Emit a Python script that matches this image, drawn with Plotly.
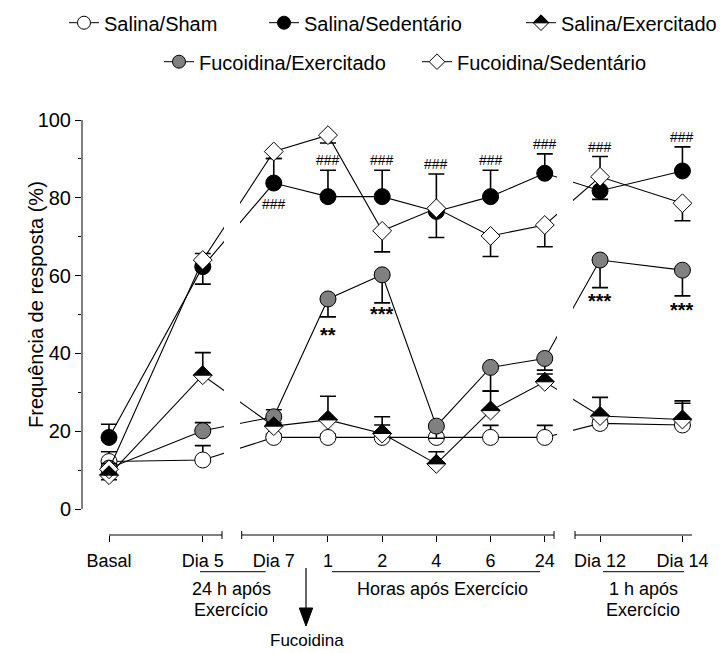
import plotly.graph_objects as go

# ---------------- data ----------------
categories = ["Basal", "Dia 5", "Dia 7", "1", "2", "4", "6", "24", "Dia 12", "Dia 14"]

sham       = [12.2, 12.6, 18.4, 18.4, 18.4, 18.4, 18.4, 18.4, 22.0, 21.6]
sham_up    = [2.5, 3.7, 0.8, 0.8, 3.2, 0.0, 3.1, 3.1, 0.8, 5.6]
sham_dn    = [0, 0, 0, 0, 0, 0, 0, 0, 0, 0]

sal_sed    = [18.4, 62.3, 83.8, 80.3, 80.3, 76.5, 80.3, 86.3, 81.8, 86.9]
sal_sed_up = [3.4, 0.0, 6.3, 6.8, 6.8, 9.6, 6.8, 5.0, 0.0, 6.2]
sal_sed_dn = [0, 4.5, 0, 0, 0, 0, 0, 0, 2.2, 0]

sal_ex     = [8.7, 34.4, 21.3, 22.9, 19.4, 11.6, 25.3, 32.7, 23.9, 23.0]
sal_ex_up  = [0.0, 5.8, 0.8, 6.1, 4.3, 3.1, 5.0, 2.0, 4.8, 4.8]
sal_ex_dn  = [1.2, 0, 0, 0, 0, 0, 0, 0, 0, 0]

fuc_ex     = [10.5, 20.1, 23.7, 54.0, 60.2, 21.3, 36.4, 38.7, 64.0, 61.4]
fuc_ex_up  = [0.0, 2.1, 1.8, 0, 0, 0, 0, 0, 0, 0]
fuc_ex_dn  = [1.0, 0, 0, 4.6, 7.2, 3.1, 6.1, 3.0, 7.1, 6.6]

fuc_sed    = [10.2, 64.0, 91.9, 96.1, 71.5, 77.3, 70.2, 73.0, 85.4, 78.6]
fuc_sed_up = [1.5, 1.7, 0, 0, 0, 0, 0, 0, 5.2, 0]
fuc_sed_dn = [0, 0, 1.8, 2.0, 5.4, 7.5, 5.3, 5.6, 0, 4.5]

# significance marks: (category, anchor series, side)
hash_marks = [("Dia 7", "sal_sed", "below"), ("1", "sal_sed", "above"), ("2", "sal_sed", "above"),
              ("4", "sal_sed", "above"), ("6", "sal_sed", "above"), ("24", "sal_sed", "above"),
              ("Dia 12", "fuc_sed", "above"), ("Dia 14", "sal_sed", "above")]
star_marks = [("1", "**"), ("2", "***"), ("Dia 12", "***"), ("Dia 14", "***")]

y_ticks = [0, 20, 40, 60, 80, 100]
y_minor = [10, 30, 50, 70, 90]

# ---------------- layout geometry ----------------
W, H = 727, 653
PL, PR, PT, PB = 82, 692, 120, 535          # plot area in px
X0_PX, UNIT = 109, 54.2                      # px of first category, px per position unit
cat_pos = [0, 1.73, 3.04, 4.04, 5.04, 6.04, 7.04, 8.04, 9.06, 10.58]
Y_MIN, Y_MAX = -6.684, 100
FONT = "Arial, Liberation Sans, sans-serif"

def xd(px):  # px -> x data
    return (px - X0_PX) / UNIT

def yp(py):  # px -> paper y
    return (PB - py) / (PB - PT)

def xp(px):  # px -> paper x
    return (px - PL) / (PR - PL)

data = {
    "sham": (sham, sham_up, sham_dn),
    "sal_sed": (sal_sed, sal_sed_up, sal_sed_dn),
    "sal_ex": (sal_ex, sal_ex_up, sal_ex_dn),
    "fuc_ex": (fuc_ex, fuc_ex_up, fuc_ex_dn),
    "fuc_sed": (fuc_sed, fuc_sed_up, fuc_sed_dn),
}
styles = [
    ("sham", "Salina/Sham", "circle", "white", 16),
    ("sal_sed", "Salina/Sedentário", "circle", "black", 16),
    ("sal_ex", "Salina/Exercitado", "diamond", "white", 14.5),
    ("fuc_ex", "Fucoidina/Exercitado", "circle", "#808080", 16),
    ("fuc_sed", "Fucoidina/Sedentário", "diamond", "white", 14.5),
]
legend_place = {  # text start px, row centre px
    "sham": (104, 22.7, "legend"), "sal_sed": (304, 22.7, "legend2"), "sal_ex": (561, 22.7, "legend3"),
    "fuc_ex": (199, 61.7, "legend4"), "fuc_sed": (457, 61.7, "legend5"),
}

fig = go.Figure()
for key, name, sym, fill, size in styles:
    y, up, dn = data[key]
    fig.add_trace(go.Scatter(
        x=cat_pos, y=y, mode="lines+markers", name=name, showlegend=False,
        line=dict(color="black", width=1.1),
        marker=dict(symbol=sym, size=size, color=fill, line=dict(color="black", width=1)),
        error_y=dict(type="data", symmetric=False, array=up, arrayminus=dn,
                     color="black", thickness=1.6, width=8),
    ))

# legend entries
legend_layouts = {}
for key, name, sym, fill, size in styles:
    tx, ty, lg = legend_place[key]
    lsym = "diamond-open" if key == "sal_ex" else sym
    lsize = 12 if sym == "diamond" else 13
    fig.add_trace(go.Scatter(
        x=[None], y=[None], mode="lines+markers", name=name, legend=lg,
        line=dict(color="black", width=1),
        marker=dict(symbol=lsym, size=lsize, color=("black" if key == "sal_ex" else fill),
                    line=dict(color="black", width=1)),
    ))
    legend_layouts[lg] = dict(x=xp(tx - 40), xanchor="left", y=yp(ty), yanchor="middle",
                              bgcolor="rgba(0,0,0,0)", font=dict(family=FONT, size=20, color="black"),
                              itemsizing="trace")

shapes = []
# axis breaks: white gaps over the connecting lines
for a, b in [(224, 240), (557, 573)]:
    shapes.append(dict(type="rect", xref="x", yref="paper", x0=xd(a), x1=xd(b), y0=0.012, y1=1.0,
                       fillcolor="white", line=dict(width=0), layer="above"))
# half-filled diamonds for Salina/Exercitado
for xv, yv in zip(cat_pos, sal_ex):
    shapes.append(dict(type="path", xref="x", yref="y", xsizemode="pixel", ysizemode="pixel",
                       xanchor=xv, yanchor=yv, path="M -9.4,0 L 0,9.4 L 9.4,0 Z",
                       fillcolor="black", line=dict(color="black", width=1), layer="above"))
# y axis line (0-100)
shapes.append(dict(type="line", xref="paper", yref="y", x0=0, x1=0, y0=0, y1=100,
                   line=dict(color="black", width=1)))
# broken x axis segments
for a, b in [(109, 222), (241.7, 554), (575, 692)]:
    shapes.append(dict(type="line", xref="x", yref="paper", x0=xd(a), x1=xd(b), y0=0, y1=0,
                       line=dict(color="black", width=1)))
for t in [222, 241.7, 554, 575]:
    shapes.append(dict(type="line", xref="x", yref="paper", x0=xd(t), x1=xd(t),
                       y0=yp(PB - 4), y1=yp(PB + 4), line=dict(color="black", width=1)))
# group underline bars
for a, b in [(200, 265.7), (332, 540), (603, 684)]:
    shapes.append(dict(type="line", xref="x", yref="paper", x0=xd(a), x1=xd(b),
                       y0=yp(571.7), y1=yp(571.7), line=dict(color="black", width=1)))
# Fucoidina arrow
shapes.append(dict(type="line", xref="x", yref="paper", x0=xd(306), x1=xd(306),
                   y0=yp(568), y1=yp(610), line=dict(color="black", width=1.2)))
shapes.append(dict(type="path", xref="x", yref="paper", xsizemode="pixel", ysizemode="pixel",
                   xanchor=xd(306), yanchor=yp(626), path="M -6.7,18 L 6.7,18 L 0,0 Z",
                   fillcolor="black", line=dict(color="black", width=1)))
# legend half-fill for Salina/Exercitado
tx, ty, _ = legend_place["sal_ex"]
shapes.append(dict(type="path", xref="paper", yref="paper", xsizemode="pixel", ysizemode="pixel",
                   xanchor=xp(tx - 20), yanchor=yp(ty), path="M -7.8,0 L 0,7.8 L 7.8,0 Z",
                   fillcolor="black", line=dict(color="black", width=1)))

ann = []
# y title
ann.append(dict(text="Frequência de resposta (%)", xref="paper", yref="paper", x=xp(23), y=yp(305),
                textangle=-90, showarrow=False, font=dict(family=FONT, size=20, color="black")))
# bottom group labels
for txt, cx, cy, fs in [("24 h após", 231, 589, 18), ("Exercício", 231, 610, 18),
                        ("Horas após Exercício", 442, 589, 18),
                        ("1 h após", 643, 589, 18), ("Exercício", 643, 610, 18),
                        ("Fucoidina", 307, 640, 17)]:
    ann.append(dict(text=txt, xref="x", yref="paper", x=xd(cx), y=yp(cy), yanchor="middle",
                    showarrow=False, font=dict(family=FONT, size=fs, color="black")))
# significance marks
for cat, key, side in hash_marks:
    i = categories.index(cat)
    y, up, dn = data[key]
    if side == "above":
        ann.append(dict(text="###", x=cat_pos[i], y=y[i] + up[i], yanchor="bottom", yshift=0,
                        showarrow=False, font=dict(family=FONT, size=14, color="black")))
    else:
        ann.append(dict(text="###", x=cat_pos[i], y=y[i], yanchor="top", yshift=-11,
                        showarrow=False, font=dict(family=FONT, size=14, color="black")))
star_shift = {"1": -5, "2": 2, "Dia 12": 0, "Dia 14": -1}
for cat, txt in star_marks:
    i = categories.index(cat)
    ann.append(dict(text="<b>" + txt + "</b>", x=cat_pos[i], y=fuc_ex[i] - fuc_ex_dn[i],
                    yanchor="top", yshift=star_shift[cat], showarrow=False,
                    font=dict(family=FONT, size=20, color="black")))

fig.update_layout(
    width=W, height=H, autosize=False,
    margin=dict(l=PL, r=W - PR, t=PT, b=H - PB, autoexpand=False),
    paper_bgcolor="white", plot_bgcolor="white",
    xaxis=dict(range=[xd(PL), xd(PR)], tickmode="array", tickvals=cat_pos, ticktext=categories,
               ticks="outside", ticklen=6, tickwidth=1, tickcolor="black", showline=False,
               showgrid=False, zeroline=False, ticklabelstandoff=3,
               tickfont=dict(family=FONT, size=18, color="black")),
    yaxis=dict(range=[Y_MIN, Y_MAX], tickmode="array", tickvals=y_ticks, ticks="outside",
               ticklen=6, tickwidth=1, tickcolor="black", showline=False, showgrid=False,
               zeroline=False, tickfont=dict(family=FONT, size=20, color="black"),
               minor=dict(tickmode="array", tickvals=y_minor, ticks="outside", ticklen=3,
                          tickwidth=1, tickcolor="black", showgrid=False)),
    shapes=shapes, annotations=ann,
    **legend_layouts,
)

fig.write_html("out.html", config={"displayModeBar": False},
               post_script="document.body.style.margin='0px';document.body.style.overflow='hidden';")
